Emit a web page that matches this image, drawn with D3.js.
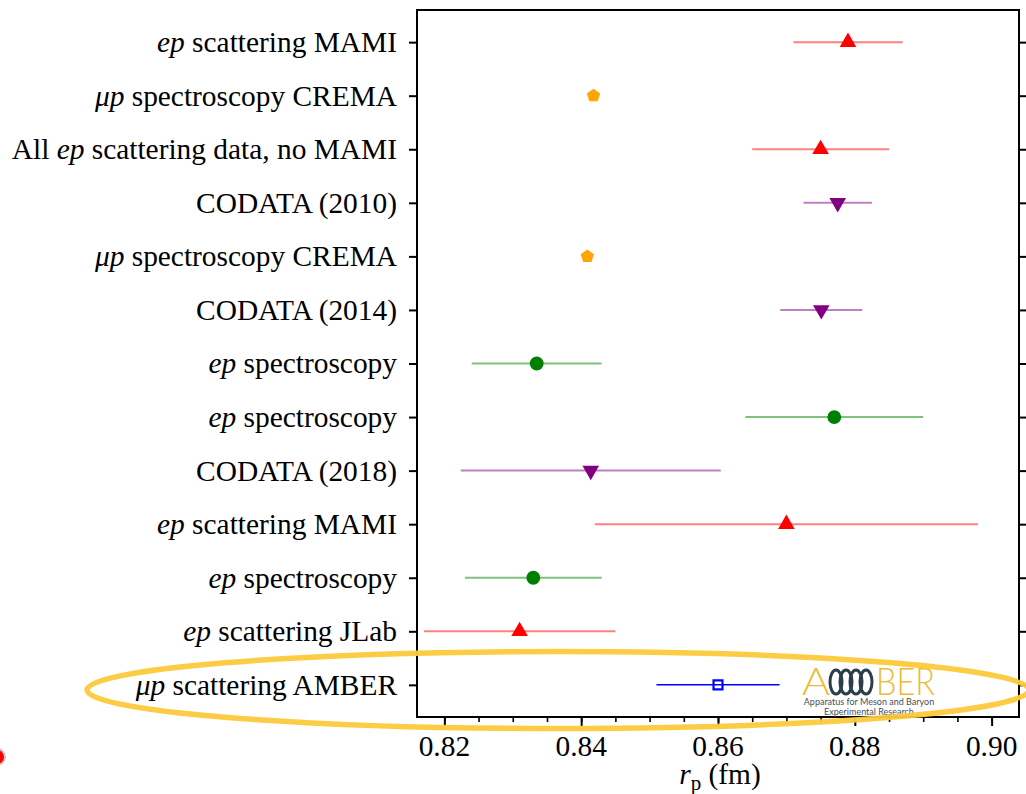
<!DOCTYPE html>
<html>
<head>
<meta charset="utf-8">
<script src="https://cdn.jsdelivr.net/npm/d3@7"></script>
<style>
  body { margin: 0; background: #fff; }
  svg { display: block; }
  .serif { font-family: "Liberation Serif", "DejaVu Serif", serif; }
</style>
</head>
<body>
<div id="chart"></div>
<script>
// Proton charge radius measurements, top row first
const labels = [
  "ep scattering MAMI",
  "μp spectroscopy CREMA",
  "All ep scattering data, no MAMI",
  "CODATA (2010)",
  "μp spectroscopy CREMA",
  "CODATA (2014)",
  "ep spectroscopy",
  "ep spectroscopy",
  "CODATA (2018)",
  "ep scattering MAMI",
  "ep spectroscopy",
  "ep scattering JLab",
  "μp scattering AMBER"
];
const radius = [0.879, 0.8418, 0.875, 0.8775, 0.8409, 0.8751, 0.8335, 0.877, 0.8414, 0.870, 0.833, 0.831, 0.860];
const errors = [0.008, 0.0007, 0.010, 0.005, 0.0004, 0.006, 0.0095, 0.013, 0.019, 0.028, 0.010, 0.014, 0.009];
const kinds = ["scat", "muon", "scat", "codata", "muon", "codata", "spec", "spec", "codata", "scat", "spec", "scat", "amber"];
const xTicks = [0.82, 0.84, 0.86, 0.88, 0.90];

const style = {
  scat:   { color: "#ff0000", bar: "#ff8080", symbol: d3.symbolTriangle, size: 120, rot: 0 },
  muon:   { color: "#ffa500", bar: "#ffd27f", symbol: null, size: 0, rot: 0 },
  codata: { color: "#800080", bar: "#c080c0", symbol: d3.symbolTriangle, size: 120, rot: 180 },
  spec:   { color: "#008000", bar: "#80c080", symbol: d3.symbolCircle, size: 150, rot: 0 },
  amber:  { color: "#0000ff", bar: "#0000ff", symbol: d3.symbolSquare, size: 80, rot: 0 }
};

const W = 1026, H = 794;
const frame = { left: 417, right: 1019, top: 10, bottom: 717 };
const serif = "Liberation Serif, DejaVu Serif, serif";
const fontSize = 29.4;

const svg = d3.select("#chart").append("svg")
  .attr("width", W).attr("height", H);

const x = d3.scaleLinear().domain([0.816, 0.904]).range([frame.left, frame.right]);
const y = d3.scaleLinear().domain([-0.6, 12.6]).range([frame.top, frame.bottom]);
const rows = d3.range(labels.length);

// Frame
svg.append("rect")
  .attr("x", frame.left).attr("y", frame.top)
  .attr("width", frame.right - frame.left).attr("height", frame.bottom - frame.top)
  .attr("fill", "none").attr("stroke", "#000").attr("stroke-width", 2);

// Left axis with category labels
const yLeft = svg.append("g")
  .attr("transform", `translate(${frame.left},0)`)
  .call(d3.axisLeft(y).tickValues(rows).tickSize(8).tickPadding(12).tickFormat(i => labels[i]))
  .attr("font-family", serif).attr("font-size", fontSize);
yLeft.select(".domain").remove();
yLeft.selectAll("line").attr("stroke-width", 2);
yLeft.selectAll("text")
  .attr("class", "serif").attr("fill", "#000")
  .each(function(i) {
    const t = d3.select(this);
    t.text(null);
    labels[i].split(/(ep|μp)/).filter(s => s.length).forEach(part => {
      t.append("tspan")
        .attr("font-style", (part === "ep" || part === "μp") ? "italic" : "normal")
        .text(part);
    });
  });

// Right axis, ticks only
const yRight = svg.append("g")
  .attr("transform", `translate(${frame.right},0)`)
  .call(d3.axisRight(y).tickValues(rows).tickSize(8).tickFormat(""));
yRight.select(".domain").remove();
yRight.selectAll("line").attr("stroke-width", 2);

// Bottom axis: minor then major ticks
const xMinor = svg.append("g")
  .attr("transform", `translate(0,${frame.bottom})`)
  .call(d3.axisBottom(x).tickValues(d3.range(0.82, 0.9026, 0.005)).tickSize(5).tickFormat(""));
xMinor.select(".domain").remove();
xMinor.selectAll("line").attr("stroke-width", 1.6);

const xMajor = svg.append("g")
  .attr("transform", `translate(0,${frame.bottom})`)
  .call(d3.axisBottom(x).tickValues(xTicks).tickSize(9).tickFormat(""));
xMajor.select(".domain").remove();
xMajor.selectAll("line").attr("stroke-width", 2);

// tick labels, placed with the same scale
svg.append("g").selectAll("text")
  .data(xTicks)
  .join("text")
  .attr("class", "serif")
  .attr("x", d => x(d)).attr("y", 756)
  .attr("text-anchor", "middle")
  .attr("font-family", serif).attr("font-size", fontSize)
  .attr("fill", "#000")
  .text(d3.format(".2f"));

// Axis title r_p (fm)
const xt = svg.append("text")
  .attr("class", "serif")
  .attr("x", 720).attr("y", 784)
  .attr("text-anchor", "middle")
  .attr("font-family", serif).attr("font-size", fontSize);
xt.append("tspan").attr("font-style", "italic").text("r");
xt.append("tspan").attr("dy", 6).attr("font-size", 21).text("p");
xt.append("tspan").attr("dy", -6).text(" (fm)");

// Error bars
svg.append("g").selectAll("line")
  .data(rows)
  .join("line")
  .attr("x1", i => x(radius[i] - errors[i]))
  .attr("x2", i => x(radius[i] + errors[i]))
  .attr("y1", i => y(i)).attr("y2", i => y(i))
  .attr("stroke", i => style[kinds[i]].bar)
  .attr("stroke-width", i => kinds[i] === "amber" ? 1.5 : 2);

// Markers
const pentagon = d3.lineRadial().angle((d, k) => k * 2 * Math.PI / 5).radius(7).curve(d3.curveLinearClosed);
svg.append("g").selectAll("path")
  .data(rows)
  .join("path")
  .attr("transform", i => `translate(${x(radius[i])},${y(i)}) rotate(${style[kinds[i]].rot})`)
  .attr("d", i => {
    const s = style[kinds[i]];
    if (kinds[i] === "muon") return pentagon(d3.range(5));
    return d3.symbol(s.symbol, s.size)();
  })
  .attr("fill", i => kinds[i] === "amber" ? "none" : style[kinds[i]].color)
  .attr("stroke", i => kinds[i] === "amber" ? style.amber.color : "none")
  .attr("stroke-width", 2.2);

// AMBER logo
const logo = svg.append("g");
const gold = "#ecbb35";
const coil = "#2b3e49";
logo.append("text")
  .attr("x", 802).attr("y", 695)
  .attr("font-family", "Lato, sans-serif").attr("font-weight", 300).attr("font-size", 37)
  .attr("textLength", 28).attr("lengthAdjust", "spacingAndGlyphs")
  .attr("fill", gold).text("A");
[836, 846, 856, 866].forEach(cx => {
  logo.append("ellipse")
    .attr("cx", cx).attr("cy", 682).attr("rx", 6).attr("ry", 12)
    .attr("fill", "none").attr("stroke", coil).attr("stroke-width", 3);
});
logo.append("text")
  .attr("x", 876).attr("y", 695)
  .attr("font-family", "Lato, sans-serif").attr("font-weight", 300).attr("font-size", 37)
  .attr("textLength", 59).attr("lengthAdjust", "spacingAndGlyphs")
  .attr("fill", gold).text("BER");
logo.append("text")
  .attr("x", 869).attr("y", 705).attr("text-anchor", "middle")
  .attr("font-family", "Lato, sans-serif").attr("font-size", 9)
  .attr("fill", "#45525a").text("Apparatus for Meson and Baryon");
logo.append("text")
  .attr("x", 869).attr("y", 715).attr("text-anchor", "middle")
  .attr("font-family", "Lato, sans-serif").attr("font-size", 9)
  .attr("fill", "#45525a").text("Experimental Research");

// Highlight ellipse
svg.append("ellipse")
  .attr("cx", 558).attr("cy", 690).attr("rx", 471).attr("ry", 38.5)
  .attr("fill", "none").attr("stroke", "#fdc93b").attr("stroke-width", 5.5)
  .attr("opacity", 0.95);

// stray red dot at the left edge
svg.append("circle")
  .attr("cx", -3).attr("cy", 757).attr("r", 8)
  .attr("fill", "#ff0000").attr("stroke", "#c8c8c8").attr("stroke-width", 2);
</script>
</body>
</html>
